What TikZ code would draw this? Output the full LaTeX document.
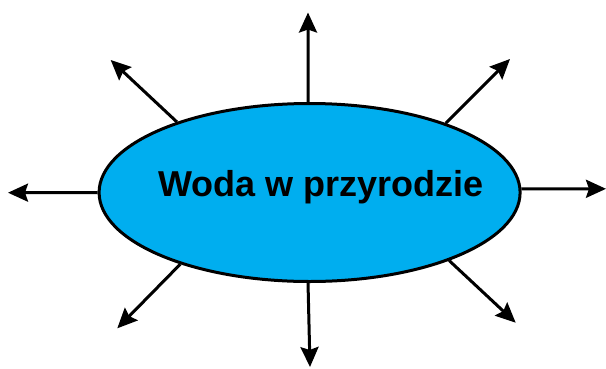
\documentclass[tikz,border=0pt]{standalone}
\usepackage{fontspec}
\setmainfont{Liberation Sans}
\usetikzlibrary{arrows.meta,shapes.geometric}
\definecolor{waterblue}{RGB}{0,174,239}
\tikzset{
  hub/.style={ellipse, draw=black, line width=3pt, fill=waterblue,
    minimum width=421pt, minimum height=178pt, inner sep=0pt},
  title/.style={font=\bfseries\fontsize{36}{40}\selectfont, inner sep=0pt, anchor=base},
  ray/.style={line width=3pt, -{Stealth[length=20pt, width=18pt, inset=3pt]}}
}
\begin{document}
\begin{tikzpicture}[x=1pt, y=-1pt]
  \useasboundingbox (0,0) rectangle (606,368);
  % central ellipse and its caption
  \node[hub] (ell) at (309.6,192.5) {};
  \node[title] (cap) at (320.8,196.7) {Woda w przyrodzie};
  % arrow tips
  \coordinate (tN)  at (308,12.5);
  \coordinate (tS)  at (310,367);
  \coordinate (tW)  at (8,192.7);
  \coordinate (tE)  at (606,188.8);
  \coordinate (tNW) at (110.7,60);
  \coordinate (tNE) at (510,59);
  \coordinate (tSW) at (117.3,328.3);
  \coordinate (tSE) at (515.7,322.7);
  % rays leaving the ellipse
  \draw[ray] (ell.91)    -- (tN);
  \draw[ray] (ell.269.7) -- (tS);
  \draw[ray] (ell.west)  -- (tW);
  \draw[ray] (ell.1)     -- (tE);
  \draw[ray] (ell.152.75) -- (tNW);
  \draw[ray] (ell.27.2)  -- (tNE);
  \draw[ray] (ell.209.1) -- (tSW);
  \draw[ray] (ell.334.9) -- (tSE);
\end{tikzpicture}
\end{document}
